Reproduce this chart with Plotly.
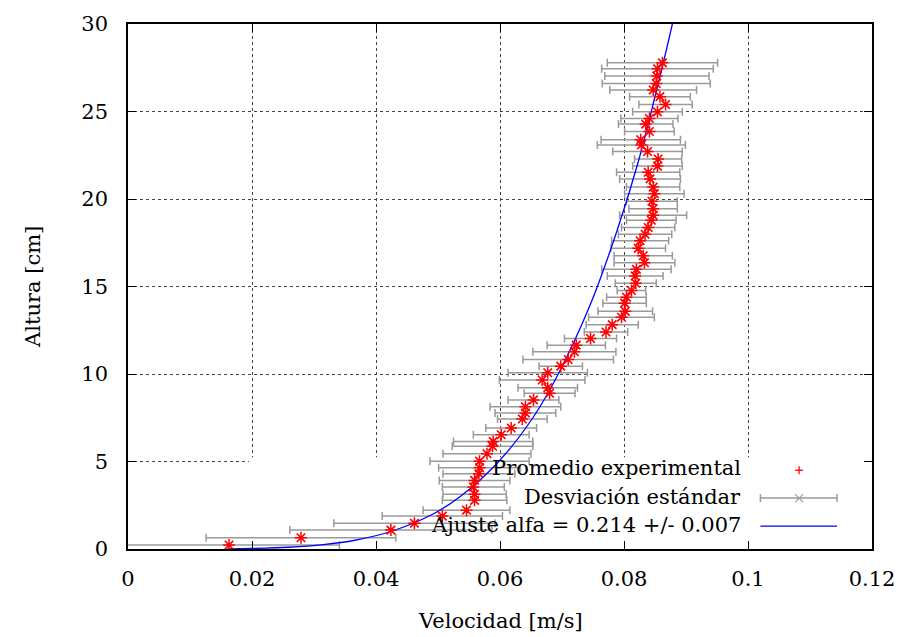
import plotly.graph_objects as go

# ---------------- data ----------------
altura = [0.23, 0.64, 1.08, 1.47, 1.88, 2.22, 2.78, 3.13, 3.54, 3.92,
          4.30, 4.64, 5.02, 5.44, 5.87, 6.15, 6.53, 6.91, 7.43, 7.77,
          8.13, 8.52, 8.90, 9.22, 9.66, 10.07, 10.45, 10.83, 11.27, 11.65,
          12.03, 12.40, 12.82, 13.24, 13.58, 14.05, 14.39, 14.77, 15.19, 15.60,
          15.98, 16.36, 16.76, 17.18, 17.61, 17.99, 18.37, 18.79, 19.07, 19.45,
          19.87, 20.30, 20.68, 21.15, 21.53, 21.88, 22.29, 22.71, 23.09, 23.39,
          23.86, 24.28, 24.60, 24.98, 25.40, 25.85, 26.23, 26.60, 27.03, 27.44,
          27.78]

velocidad = [0.0163, 0.0279, 0.0424, 0.0462, 0.0507, 0.0546, 0.0559, 0.0559, 0.0557, 0.0559,
             0.0566, 0.0567, 0.0567, 0.0579, 0.0588, 0.0589, 0.0602, 0.0618, 0.0636, 0.0641,
             0.0641, 0.0654, 0.0680, 0.0677, 0.0668, 0.0677, 0.0698, 0.0710, 0.0720, 0.0723,
             0.0746, 0.0771, 0.0781, 0.0796, 0.0802, 0.0801, 0.0804, 0.0812, 0.0819, 0.0818,
             0.0820, 0.0833, 0.0831, 0.0823, 0.0826, 0.0834, 0.0839, 0.0844, 0.0847, 0.0847,
             0.0845, 0.0849, 0.0847, 0.0842, 0.0839, 0.0854, 0.0855, 0.0838, 0.0828, 0.0827,
             0.0841, 0.0835, 0.0841, 0.0854, 0.0867, 0.0858, 0.0847, 0.0852, 0.0853, 0.0854,
             0.0862]

desviacion = [0.0178, 0.0153, 0.0163, 0.0130, 0.0097, 0.0070, 0.0052, 0.0051, 0.0050, 0.0057,
              0.0058, 0.0066, 0.0080, 0.0071, 0.0065, 0.0064, 0.0045, 0.0041, 0.0040, 0.0049,
              0.0057, 0.0041, 0.0041, 0.0048, 0.0069, 0.0064, 0.0035, 0.0073, 0.0067, 0.0047,
              0.0042, 0.0035, 0.0042, 0.0053, 0.0044, 0.0035, 0.0032, 0.0023, 0.0033, 0.0045,
              0.0056, 0.0049, 0.0047, 0.0044, 0.0046, 0.0043, 0.0043, 0.0040, 0.0054, 0.0039,
              0.0041, 0.0048, 0.0043, 0.0049, 0.0051, 0.0040, 0.0038, 0.0056, 0.0071, 0.0064,
              0.0040, 0.0044, 0.0046, 0.0040, 0.0043, 0.0049, 0.0070, 0.0087, 0.0084, 0.0090,
              0.0089]

# fitted curve, points
ajuste_v = [0.0160, 0.0200, 0.0259, 0.0315, 0.0366, 0.0424, 0.0492, 0.0536,
            0.0598, 0.0653, 0.0694, 0.0746, 0.0787, 0.0822, 0.0851, 0.0878, 0.0890]
ajuste_h = [0.01, 0.03, 0.10, 0.25, 0.50, 1.0, 2.0, 3.0,
            5.0, 7.5, 10.0, 14.0, 18.0, 22.0, 26.0, 30.0, 32.0]

x_ticks = [0, 0.02, 0.04, 0.06, 0.08, 0.1, 0.12]
x_tick_text = ["0", "0.02", "0.04", "0.06", "0.08", "0.1", "0.12"]
y_ticks = [0, 5, 10, 15, 20, 25, 30]

legend_labels = ["Promedio experimental", "Desviación estándar",
                 "Ajuste alfa = 0.214 +/- 0.007"]

FONT = "DejaVu Serif"
GRAY = "#9a9a9a"
RED = "#ff0000"

fig = go.Figure()

# standard-deviation bars (with gray x at the centre)
fig.add_trace(go.Scatter(
    x=velocidad, y=altura, mode="markers",
    marker=dict(symbol="x-thin-open", size=8, color=GRAY, line=dict(color=GRAY, width=1.2)),
    error_x=dict(type="data", array=desviacion, visible=True,
                 color=GRAY, thickness=1.5, width=4),
    showlegend=False, cliponaxis=True))

# fit
fig.add_trace(go.Scatter(
    x=ajuste_v, y=ajuste_h, mode="lines",
    line=dict(color="#0000ff", width=1.3, shape="spline", smoothing=1.0),
    showlegend=False, cliponaxis=True))

# mean values
fig.add_trace(go.Scatter(
    x=velocidad, y=altura, mode="markers",
    marker=dict(symbol="asterisk-open", size=10, color=RED, line=dict(color=RED, width=1.5)),
    showlegend=False, cliponaxis=True))

shapes = []
# opaque key box hiding the grid (drawn between grid and traces)
shapes.append(dict(type="rect", xref="x", yref="y", x0=0.0195, x1=0.12, y0=0, y1=5.25,
                   fillcolor="white", line=dict(width=0), layer="between"))

# legend samples (paper coords)
def pix_line(xc, yc, dx0, dy0, dx1, dy1, color, width):
    return dict(type="line", xref="paper", yref="paper",
                xsizemode="pixel", ysizemode="pixel",
                xanchor=xc, yanchor=yc,
                x0=dx0, x1=dx1, y0=dy0, y1=dy1,
                line=dict(color=color, width=width), layer="above")

x_left, x_right, x_mid = 0.850, 0.953, 0.902
y1, y2, y3 = 0.150, 0.097, 0.0436
# red +
shapes.append(pix_line(x_mid, y1, -4, 0, 4, 0, RED, 1.3))
shapes.append(pix_line(x_mid, y1, 0, -4, 0, 4, RED, 1.3))
# gray error bar sample
shapes.append(dict(type="line", xref="paper", yref="paper", x0=x_left, x1=x_right, y0=y2, y1=y2,
                   line=dict(color=GRAY, width=1.5)))
shapes.append(pix_line(x_left, y2, 0, -4, 0, 4, GRAY, 1.5))
shapes.append(pix_line(x_right, y2, 0, -4, 0, 4, GRAY, 1.5))
shapes.append(pix_line(x_mid, y2, -4, -4, 4, 4, GRAY, 1.2))
shapes.append(pix_line(x_mid, y2, -4, 4, 4, -4, GRAY, 1.2))
# blue line sample
shapes.append(dict(type="line", xref="paper", yref="paper", x0=x_left, x1=x_right, y0=y3, y1=y3,
                   line=dict(color="#0000ff", width=1.3)))

annotations = []
for lab, yy in zip(legend_labels, [0.154, 0.099, 0.0455]):
    annotations.append(dict(text=lab, xref="paper", yref="paper", x=0.827, y=yy,
                            xanchor="right", yanchor="middle", showarrow=False,
                            font=dict(family=FONT, size=21, color="black")))
annotations.append(dict(text="Velocidad [m/s]", xref="paper", yref="paper", x=0.5, y=-0.138,
                        xanchor="center", yanchor="middle", showarrow=False,
                        font=dict(family=FONT, size=21, color="black")))
annotations.append(dict(text="Altura [cm]", xref="paper", yref="paper", x=-0.1285, y=0.5,
                        xanchor="center", yanchor="middle", showarrow=False, textangle=-90,
                        font=dict(family=FONT, size=21, color="black")))

axis_common = dict(showline=True, linecolor="black", linewidth=1.5, mirror="ticks",
                   ticks="inside", ticklen=8, tickwidth=1.2, tickcolor="black",
                   showgrid=True, gridcolor="#444444", griddash="dot", gridwidth=1,
                   zeroline=False, tickfont=dict(family=FONT, size=21, color="black"))

fig.update_layout(
    width=907, height=637,
    margin=dict(l=128, r=32, t=21, b=88),
    paper_bgcolor="white", plot_bgcolor="white",
    xaxis=dict(range=[0, 0.12], tickvals=x_ticks, ticktext=x_tick_text,
               ticklabelstandoff=10, **axis_common),
    yaxis=dict(range=[0, 30], tickvals=y_ticks, ticklabelstandoff=14, **axis_common),
    shapes=shapes, annotations=annotations, showlegend=False,
)

fig.write_html("out.html")
